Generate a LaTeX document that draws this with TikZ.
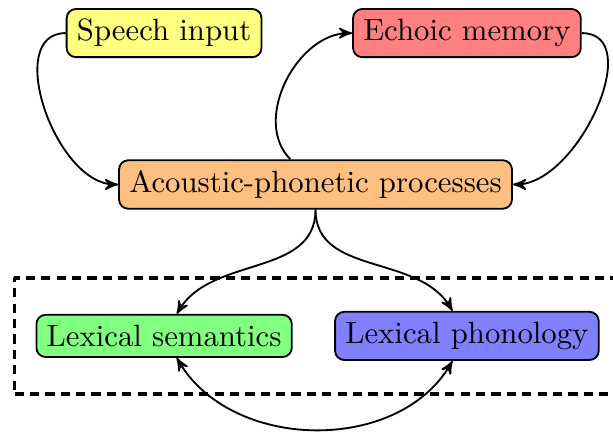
\documentclass[tikz,border=0pt]{standalone}
\usetikzlibrary{arrows,fit}
\definecolor{speechcol}{rgb}{1.0,1.0,0.5}
\definecolor{echoiccol}{rgb}{1.0,0.5,0.5}
\definecolor{acousticcol}{rgb}{1.0,0.75,0.5}
\definecolor{semanticscol}{rgb}{0.5,1.0,0.5}
\definecolor{phonologycol}{rgb}{0.5,0.5,1.0}
\tikzset{
  stage/.style={draw,semithick,rounded corners=3pt},
  link/.style={->,semithick},
  module/.style={draw,line width=1.1pt,densely dashed,inner xsep=6.8pt,inner ysep=10.7pt},
}
\begin{document}
\begin{tikzpicture}[>=stealth',line join=bevel,]
  \useasboundingbox (-3.605,-2.828) rectangle (3.399,2.108);
%%
  % Node: speech
  \node[stage,fill=speechcol] (speech) at (-1.73,1.73) {Speech input};
  % Node: echoic
  \node[stage,fill=echoiccol] (echoic) at (1.73,1.73) {Echoic memory};
  % Node: acoustic
  \node[stage,fill=acousticcol] (acoustic) at (0,0) {Acoustic-phonetic processes};
  % Node: lexsem
  \node[stage,fill=semanticscol] (lexsem) at (-1.73,-1.73) {Lexical semantics};
  % Node: lexphon
  \node[stage,fill=phonologycol] (lexphon) at (1.73,-1.73) {Lexical phonology};
  % Edge: speech -> acoustic
  \draw[link] (speech) to[out=180,in=180] (acoustic);
  % Edge: acoustic -> echoic
  \draw[link] (acoustic) to[out=135,in=180] (echoic);
  % Edge: echoic -> acoustic
  \draw[link] (echoic) to[out=0,in=0] (acoustic);
  % Edge: acoustic -> lexsem
  \draw[link] (acoustic) to[out=-90,in=60] (lexsem);
  % Edge: acoustic -> lexphon
  \draw[link] (acoustic) to[out=-90,in=120] (lexphon);
  % Edge: lexsem <-> lexphon
  \draw[link,<->] (lexsem) to[out=-60,in=-120] (lexphon);
  % Box: lexical
  \node[module,fit=(lexsem)(lexphon)] (lexical) {};
%
\end{tikzpicture}
\end{document}
